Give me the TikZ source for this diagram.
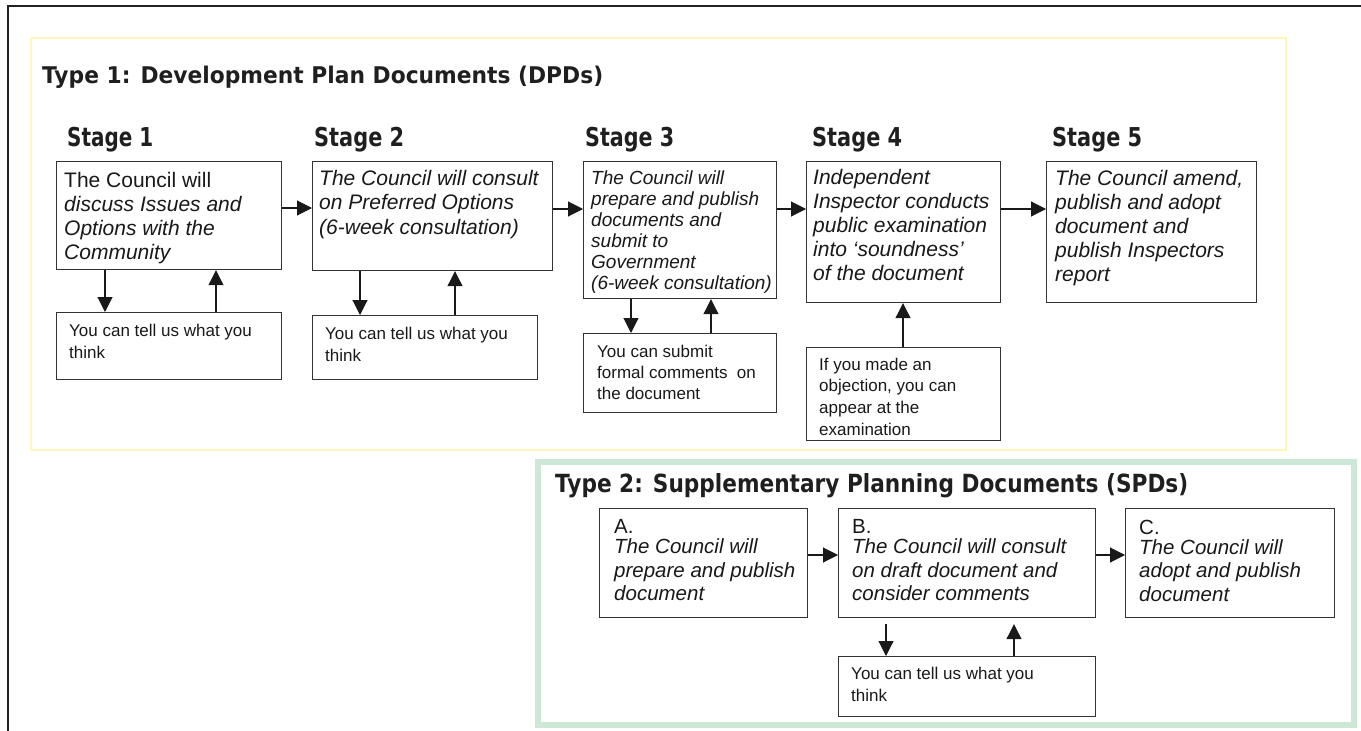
\documentclass[tikz,border=0pt]{standalone}
\usepackage{fontspec}
\usepackage{graphicx}
\setmainfont{Liberation Sans}
\newfontfamily\headfont{DejaVu Sans}
\usetikzlibrary{arrows.meta}
\definecolor{frameblack}{HTML}{222222}
\definecolor{yellowline}{RGB}{255,246,190}
\definecolor{greenline}{RGB}{205,232,214}
\definecolor{boxline}{HTML}{333333}
\newcommand\mkbox[5]{\node[box,anchor=north west,minimum width={#4pt-#2pt},minimum height={#5pt-#3pt}] (#1) at (#2,#3) {};}
\tikzset{
  box/.style={draw=boxline,line width=1.2pt,rectangle,inner sep=0pt,fill=white},
  arr/.style={draw=black!90,line width=1.1pt,-{Triangle[length=15pt,width=15pt]}},
  txt/.style={anchor=north west,inner sep=0pt,align=left,text=black!90},
  big/.style={font=\fontsize{21}{24}\selectfont\itshape},
  mid/.style={font=\fontsize{19}{21}\selectfont\itshape},
  small/.style={font=\fontsize{17}{22}\selectfont},
  head/.style={anchor=base west,inner sep=0pt,text=black!88},
}
\begin{document}
\begin{tikzpicture}[x=1pt,y=-1pt]
\useasboundingbox (0,0) rectangle (1361,731);
% outer frame
\draw[frameblack,line width=2.5pt] (8,731) -- (8,6) -- (1361,6);
% group frames
\draw[yellowline,line width=2.5pt] (31,38) rectangle (1286,450);
\draw[greenline,line width=6pt] (538,462) rectangle (1354,724.5);

% titles
\node[head] (t1) at (42,83) {\resizebox{561pt}{\height}{\headfont\bfseries\fontsize{23}{23}\selectfont Type 1: Development Plan Documents (DPDs)}};
\node[head] (t2) at (555,492) {\resizebox{633pt}{\height}{\headfont\bfseries\fontsize{25}{25}\selectfont Type 2: Supplementary Planning Documents (SPDs)}};
\node[head] (l1) at (67,146) {\resizebox{86pt}{\height}{\headfont\bfseries\fontsize{26}{26}\selectfont Stage 1}};
\node[head] (l2) at (314,146) {\resizebox{90pt}{\height}{\headfont\bfseries\fontsize{26}{26}\selectfont Stage 2}};
\node[head] (l3) at (585,146) {\resizebox{89pt}{\height}{\headfont\bfseries\fontsize{26}{26}\selectfont Stage 3}};
\node[head] (l4) at (812,146) {\resizebox{90pt}{\height}{\headfont\bfseries\fontsize{26}{26}\selectfont Stage 4}};
\node[head] (l5) at (1052,146) {\resizebox{90pt}{\height}{\headfont\bfseries\fontsize{26}{26}\selectfont Stage 5}};

% boxes type 1
\mkbox{s1}{56}{161}{281}{269}
\mkbox{s2}{312}{161}{552}{270}
\mkbox{s3}{583}{161}{776}{298}
\mkbox{s4}{806}{161}{1000}{302}
\mkbox{s5}{1046}{161}{1256}{302}
\mkbox{f1}{56}{312}{281}{379}
\mkbox{f2}{312}{315}{537}{379}
\mkbox{f3}{583}{333}{776}{412}
\mkbox{f4}{806}{347}{1000}{440}
% boxes type 2
\mkbox{a}{599}{508}{807}{617}
\mkbox{b}{838}{508}{1095}{617}
\mkbox{c}{1125}{508}{1334}{617}
\mkbox{fb}{838}{656}{1095}{716}

% texts type 1
\node[txt,big] (s1t) at (64,172) {{\upshape The Council will}\\discuss Issues and\\Options with the\\Community};
\node[txt,big,font=\fontsize{21}{24.5}\selectfont\itshape] (s2t) at (319,170) {The Council will consult\\on Preferred Options\\(6-week consultation)};
\node[txt,mid] (s3t) at (591,171) {The Council will\\prepare and publish\\documents and\\submit to\\Government\\(6-week consultation)};
\node[txt,big] (s4t) at (813,169) {Independent\\Inspector conducts\\public examination\\into ‘soundness’\\of the document};
\node[txt,big] (s5t) at (1055,170) {The Council amend,\\publish and adopt\\document and\\publish Inspectors\\report};
\node[txt,small] (f1t) at (69,323.5) {You can tell us what you\\think};
\node[txt,small] (f2t) at (325,326.5) {You can tell us what you\\think};
\node[txt,small,font=\fontsize{17}{21}\selectfont] (f3t) at (597,344.5) {You can submit\\formal comments~ on\\the document};
\node[txt,small,font=\fontsize{17}{21.7}\selectfont] (f4t) at (819,357.5) {If you made an\\objection, you can\\appear at the\\examination};
% texts type 2
\node[txt,font=\fontsize{20.5}{23.5}\selectfont] (at) at (614,519.5) {A.\\[-3.5pt]\itshape The Council will\\\itshape prepare and publish\\\itshape document};
\node[txt,font=\fontsize{20.5}{23.5}\selectfont] (bt) at (852,519.5) {B.\\[-3.5pt]\itshape The Council will consult\\\itshape on draft document and\\\itshape consider comments};
\node[txt,font=\fontsize{20.5}{23.5}\selectfont] (ct) at (1139,519.5) {C.\\[-3.5pt]\itshape The Council will\\\itshape adopt and publish\\\itshape document};
\node[txt,small] (fbt) at (851,666.5) {You can tell us what you\\think};

% horizontal arrows
\draw[arr] ([yshift=-47pt]s1.north east) -- ([yshift=-47pt]s2.north west);
\draw[arr] ([yshift=-48pt]s2.north east) -- ([yshift=-48pt]s3.north west);
\draw[arr] ([yshift=-48pt]s3.north east) -- ([yshift=-48pt]s4.north west);
\draw[arr] ([yshift=-48pt]s4.north east) -- ([yshift=-48pt]s5.north west);
\draw[arr] ([yshift=-47pt]a.north east) -- ([yshift=-47pt]b.north west);
\draw[arr] ([yshift=-47pt]b.north east) -- ([yshift=-47pt]c.north west);
% vertical arrows
\draw[arr] ([xshift=49pt]s1.south west) -- ([xshift=49pt]f1.north west);
\draw[arr] ([xshift=160pt]f1.north west) -- ([xshift=160pt]s1.south west);
\draw[arr] ([xshift=48pt]s2.south west) -- ([xshift=48pt]f2.north west);
\draw[arr] ([xshift=143pt]f2.north west) -- ([xshift=143pt]s2.south west);
\draw[arr] ([xshift=48pt]s3.south west) -- ([xshift=48pt]f3.north west);
\draw[arr] ([xshift=128pt]f3.north west) -- ([xshift=128pt]s3.south west);
\draw[arr] ([xshift=97pt]f4.north west) -- ([xshift=97pt]s4.south west);
\draw[arr,shorten <=6pt] ([xshift=48pt]b.south west) -- ([xshift=48pt]fb.north west);
\draw[arr,shorten >=6pt] ([xshift=176pt]fb.north west) -- ([xshift=176pt]b.south west);
\end{tikzpicture}
\end{document}
